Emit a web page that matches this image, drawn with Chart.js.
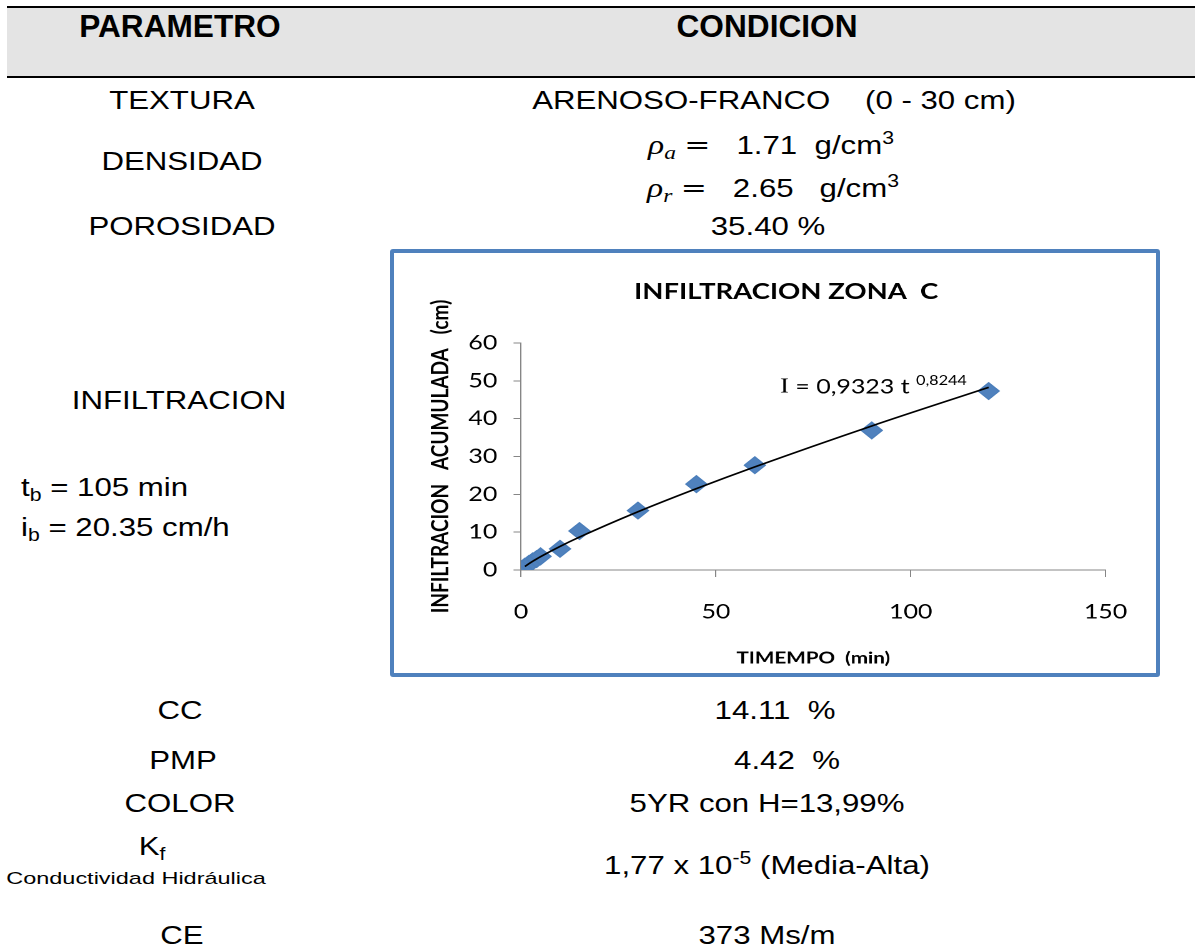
<!DOCTYPE html>
<html>
<head>
<meta charset="utf-8">
<script src="https://cdn.jsdelivr.net/npm/chart.js@4.4.1/dist/chart.umd.min.js"></script>
<style>
  html, body { margin: 0; padding: 0; background: #fff; width: 1195px; height: 952px; overflow: hidden; }
  body { position: relative; font-family: "Liberation Sans", Arial, sans-serif; color: #000; }
  .rule { position: absolute; left: 7px; width: 1188px; height: 2px; background: #000; }
  .band { position: absolute; left: 7px; top: 8px; width: 1188px; height: 68px; background: #e4e4e4; }
  .hd { position: absolute; font-weight: bold; font-size: 31px; line-height: 1; white-space: pre; transform: translate(-50%, -50%) scaleX(1.02); }
  .t { position: absolute; font-size: 26px; line-height: 1; white-space: pre; transform: translate(-50%, -50%) scaleX(1.2); }
  .tl { position: absolute; font-size: 26px; line-height: 1; white-space: pre; transform-origin: 0 50%; transform: translateY(-50%) scaleX(1.2); }
  .small { font-size: 17px; transform: translate(-50%, -50%) scaleX(1.38); }
  sub { font-size: 0.68em; vertical-align: -0.28em; line-height: 0; }
  sup { font-size: 0.68em; vertical-align: 0.55em; line-height: 0; }
  .m { font-family: "Liberation Serif", "DejaVu Serif", serif; font-style: italic; font-size: 28px; }
  .m sub { font-size: 0.7em; }
  .eq { font-family: "DejaVu Serif", "Liberation Serif", serif; font-style: normal; font-size: 26px; }
  #box { position: absolute; left: 390px; top: 249px; width: 762px; height: 420px; border: 4px solid #4f81bd; border-radius: 3px; background: #fff; }
  #chartWrap { position: absolute; left: 0; top: 0; width: 610px; height: 420px; transform-origin: 0 0; transform: scaleX(1.2492); }
</style>
</head>
<body>
  <div class="rule" style="top:6px"></div>
  <div class="band"></div>
  <div class="rule" style="top:76px"></div>

  <div class="hd" style="left:180px; top:26px">PARAMETRO</div>
  <div class="hd" style="left:767px; top:26px">CONDICION</div>

  <div class="t" style="left:182px; top:100px">TEXTURA</div>
  <div class="t" style="left:774px; top:100px">ARENOSO-FRANCO    (0 - 30 cm)</div>

  <div class="t" style="left:182px; top:161px">DENSIDAD</div>
  <div class="t" style="left:771px; top:145px"><span class="m">ρ<sub>a</sub> <span class="eq">=</span></span>   1.71  g/cm<sup>3</sup></div>
  <div class="t" style="left:773px; top:188px"><span class="m">ρ<sub>r</sub> <span class="eq">=</span></span>   2.65   g/cm<sup>3</sup></div>

  <div class="t" style="left:182px; top:226px">POROSIDAD</div>
  <div class="t" style="left:768px; top:226px">35.40 %</div>

  <div class="t" style="left:179px; top:400px">INFILTRACION</div>
  <div class="tl" style="left:21px; top:487px">t<sub>b</sub> = 105 min</div>
  <div class="tl" style="left:21px; top:527px">i<sub>b</sub> = 20.35 cm/h</div>

  <div class="t" style="left:180px; top:710px">CC</div>
  <div class="t" style="left:775px; top:710px">14.11  %</div>

  <div class="t" style="left:183px; top:760px">PMP</div>
  <div class="t" style="left:787px; top:760px">4.42  %</div>

  <div class="t" style="left:180px; top:803px">COLOR</div>
  <div class="t" style="left:767px; top:803px">5YR con H=13,99%</div>

  <div class="t" style="left:152px; top:846px">K<sub>f</sub></div>
  <div class="t small" style="left:136px; top:878px">Conductividad Hidráulica</div>
  <div class="t" style="left:767px; top:865px">1,77 x 10<sup>-5</sup> (Media-Alta)</div>

  <div class="t" style="left:182px; top:935px">CE</div>
  <div class="t" style="left:767px; top:935px">373 Ms/m</div>

  <div id="box">
    <div id="chartWrap"><canvas id="infil" width="610" height="420"></canvas></div>
  </div>

<script>
// Ensayo de infiltración, zona C: tiempo (min) e infiltración acumulada (cm)
const TIEMPO = [1, 2, 3, 4, 5, 10, 15, 30, 45, 60, 90, 120];
const INFILTRACION_ACUM = [0.9, 1.6, 2.3, 2.9, 3.6, 5.6, 10.3, 15.7, 22.7, 27.7, 36.9, 47.3];

// Ajuste potencial I = a · t^b (Kostiakov)
const COEF_A = 0.9323;
const EXP_B = 0.8244;
const COEF_A_TXT = '0,9323';
const EXP_B_TXT = '0,8244';

const X_TICKS = [0, 50, 100, 150];
const Y_TICKS = [0, 10, 20, 30, 40, 50, 60];

const TITULO = 'INFILTRACION ZONA  C';
const TITULO_X = 'TIMEMPO  (min)';
const TITULO_Y = 'INFILTRACION   ACUMULADA   (cm)';

const puntos = TIEMPO.map((t, i) => ({ x: t, y: INFILTRACION_ACUM[i] }));
const ajuste = TIEMPO.map(t => ({ x: t, y: COEF_A * Math.pow(t, EXP_B) }));

const AXIS_GREY = '#868686';
const FONT = 'Lato, "Open Sans", sans-serif';

const tituloPlugin = {
  id: 'tituloGrafico',
  afterDraw(chart) {
    const ctx = chart.ctx;
    ctx.save();
    ctx.fillStyle = '#000';
    ctx.font = 'bold 22px ' + FONT;
    ctx.textAlign = 'center';
    ctx.textBaseline = 'middle';
    ctx.fillText(TITULO, 314, 39);
    ctx.restore();
  }
};

const ecuacionPlugin = {
  id: 'ecuacion',
  afterDatasetsDraw(chart) {
    const ctx = chart.ctx;
    const xs = chart.scales.x, ys = chart.scales.y;
    let x = xs.getPixelForValue(66.5);
    const y = ys.getPixelForValue(48.4);
    ctx.save();
    ctx.fillStyle = '#000';
    ctx.textBaseline = 'middle';
    ctx.textAlign = 'left';
    ctx.font = '21px "Liberation Serif", serif';
    ctx.fillText('I', x, y);
    x += ctx.measureText('I').width;
    ctx.font = '20px ' + FONT;
    const cuerpo = ' = ' + COEF_A_TXT + ' t ';
    ctx.fillText(cuerpo, x, y);
    x += ctx.measureText(cuerpo).width;
    ctx.font = '13px ' + FONT;
    ctx.fillText(EXP_B_TXT, x, y - 6);
    ctx.restore();
  }
};

new Chart(document.getElementById('infil'), {
  type: 'scatter',
  data: {
    datasets: [
      {
        label: 'Ajuste potencial',
        data: ajuste,
        showLine: true,
        borderColor: '#000',
        borderWidth: 1.6,
        pointRadius: 0,
        cubicInterpolationMode: 'monotone',
        fill: false,
        order: 0
      },
      {
        label: 'Infiltración acumulada',
        data: puntos,
        showLine: false,
        pointStyle: 'rectRot',
        pointRadius: 8.5,
        backgroundColor: '#4f81bd',
        borderColor: '#4a7ebb',
        borderWidth: 1,
        order: 1
      }
    ]
  },
  options: {
    responsive: false,
    animation: false,
    devicePixelRatio: 2,
    layout: { padding: { left: 0, right: 38.4, top: 90, bottom: 0 } },
    plugins: {
      legend: { display: false },
      tooltip: { enabled: false },
      title: { display: false }
    },
    scales: {
      x: {
        type: 'linear',
        min: 0,
        max: 150,
        afterBuildTicks: s => { s.ticks = X_TICKS.map(v => ({ value: v })); },
        afterFit: s => { s.height = 103; },
        ticks: { color: '#000', font: { family: FONT, size: 20 }, padding: 23, maxRotation: 0 },
        grid: { drawOnChartArea: false, drawTicks: true, tickLength: 7, color: AXIS_GREY, lineWidth: 1 },
        border: { display: true, color: AXIS_GREY, width: 1 },
        title: {
          display: true,
          text: TITULO_X,
          color: '#000',
          font: { family: FONT, size: 16.5, weight: 'bold' },
          padding: { top: 0, bottom: 5 }
        }
      },
      y: {
        type: 'linear',
        min: 0,
        max: 60,
        afterBuildTicks: s => { s.ticks = Y_TICKS.map(v => ({ value: v })); },
        afterFit: s => { s.width = 101.7; },
        ticks: { color: '#000', font: { family: FONT, size: 20 }, padding: 13 },
        grid: { drawOnChartArea: false, drawTicks: true, tickLength: 6, color: AXIS_GREY, lineWidth: 1 },
        border: { display: true, color: AXIS_GREY, width: 1 },
        title: {
          display: true,
          text: TITULO_Y,
          color: '#000',
          font: { family: FONT, size: 19, weight: 'bold' },
          padding: { top: 26, bottom: 0 }
        }
      }
    }
  },
  plugins: [tituloPlugin, ecuacionPlugin]
});
</script>
</body>
</html>
